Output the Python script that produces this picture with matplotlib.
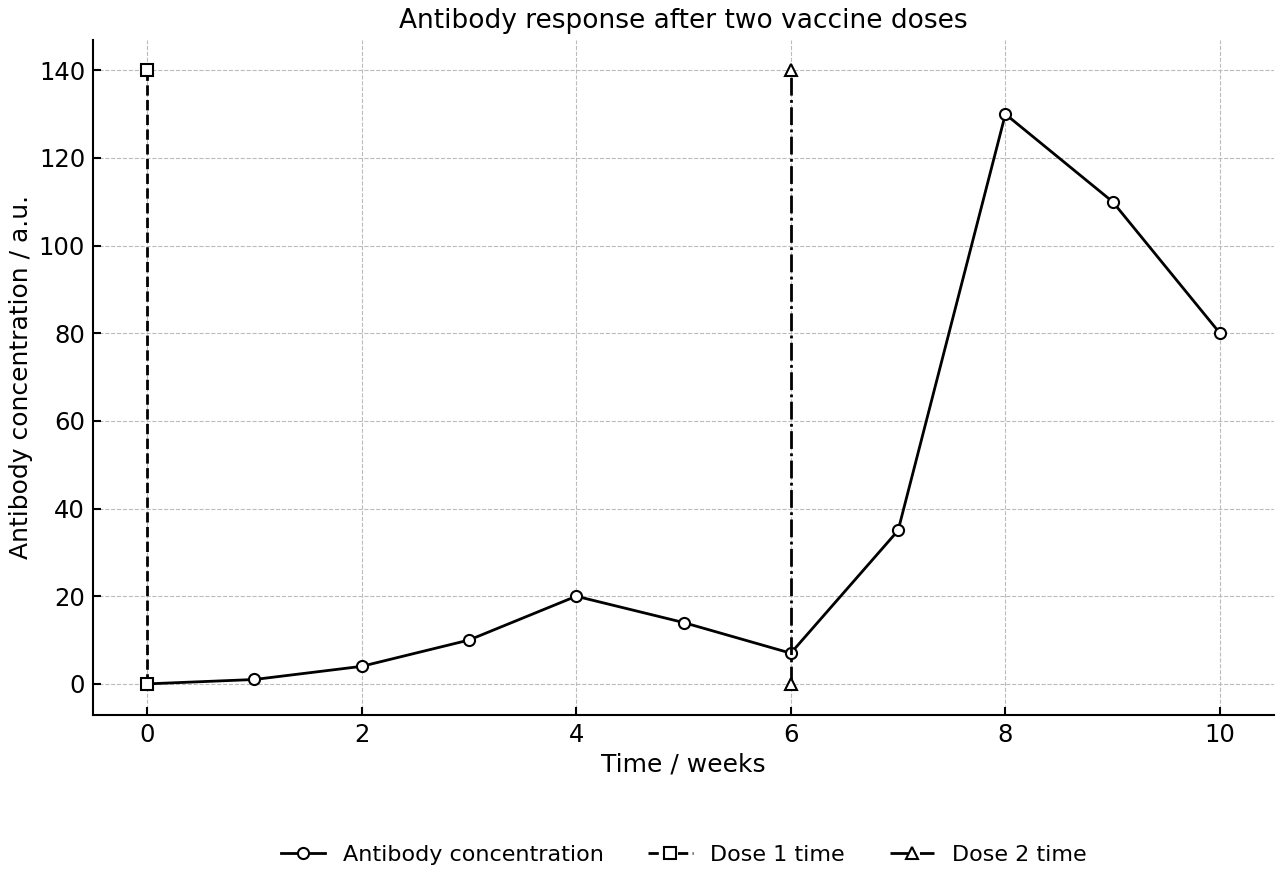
import matplotlib
matplotlib.use("Agg")
import matplotlib.pyplot as plt

weeks = [0, 1, 2, 3, 4, 5, 6, 7, 8, 9, 10]
antibody = [0, 1, 4, 10, 20, 14, 7, 35, 130, 110, 80]
dose1_x = [0, 0]
dose2_x = [6, 6]
dose_y = [0, 140]

plt.rcParams['font.size'] = 16
fig, ax = plt.subplots(figsize=(12.8, 8.8), dpi=100)

ax.plot(weeks, antibody, '-o', color='black', lw=2, markersize=8,
        markerfacecolor='white', markeredgewidth=1.5, label='Antibody concentration')
ax.plot(dose1_x, dose_y, '--s', color='black', lw=2, markersize=8,
        markerfacecolor='white', markeredgewidth=1.5, label='Dose 1 time')
ax.plot(dose2_x, dose_y, '-.^', color='black', lw=2, markersize=9,
        markerfacecolor='white', markeredgewidth=1.5, label='Dose 2 time')

ax.set_title('Antibody response after two vaccine doses', fontsize=19, pad=8)
ax.set_xlabel('Time / weeks', fontsize=18, labelpad=4)
ax.set_ylabel('Antibody concentration / a.u.', fontsize=18, labelpad=4)
ax.set_xticks([0, 2, 4, 6, 8, 10])
ax.set_yticks([0, 20, 40, 60, 80, 100, 120, 140])
ax.grid(True, linestyle='--', color='#bbbbbb', lw=0.8)
ax.tick_params(direction='in', length=6, width=1.5, labelsize=17.5, pad=6)
for s in ['top', 'right']:
    ax.spines[s].set_visible(False)
for s in ['left', 'bottom']:
    ax.spines[s].set_linewidth(1.5)
ax.set_xlim(-0.5, 10.5)
ax.set_ylim(-7, 147)

ax.legend(loc='upper center', bbox_to_anchor=(0.5, -0.163), ncol=3, frameon=False, fontsize=16)
fig.subplots_adjust(left=0.073, right=0.995, top=0.955, bottom=0.188)
fig.savefig('out.png')
